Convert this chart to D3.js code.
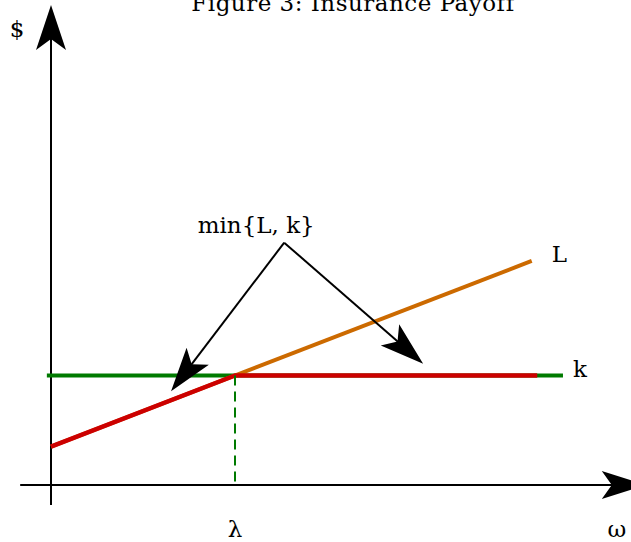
<!DOCTYPE html>
<html>
<head>
<meta charset="utf-8">
<script src="https://cdn.jsdelivr.net/npm/d3@7"></script>
<style>
  html, body { margin: 0; padding: 0; background: #fff; }
  svg { display: block; }
  text { font-family: "DejaVu Serif", "Liberation Serif", serif; fill: #000; }
</style>
</head>
<body>
<svg id="chart" width="631" height="542"></svg>
<script>
// Insurance payoff: loss L(ω), cap k, payout min{L, k}
const lossOmega   = [0, 10.45];      // ω at the ends of the loss line
const lossValue   = [1.05, 6.14];    // L at those ω
const capOmega    = [-0.09, 11.13];  // extent of the cap line k
const capValue    = 3.0;             // k
const lambdaOmega = 4.0;             // λ, where L reaches k
const payoutOmega = [0, 4.0, 10.57]; // min{L, k} corners
const payoutValue = [1.05, 3.0, 3.0];

// Annotation: label anchor and the two arrow tips (in ω, $ units)
const noteLabel  = "min{L, k}";
const noteOrigin = [5.07, 6.64];
const noteTips   = [[2.61, 2.57], [8.09, 3.32]];

const titleText = "Figure 3: Insurance Payoff";
const axisLabels = { x: "ω", y: "$", lambda: "λ", L: "L", k: "k" };

const svg = d3.select("#chart");

// One unit of ω = 46 px, one unit of $ = 36.5 px, origin at (51, 485)
const x = d3.scaleLinear().domain([0, 10]).range([51, 511]);
const y = d3.scaleLinear().domain([0, 10]).range([485, 120]);

const cGreen = "#007a00", cRed = "#cc0000", cOrange = "#cc6a00";
const fs = 23;

// Stealth-style arrowhead pointing at (tx, ty) along direction (dx, dy)
function arrowHead(g, tx, ty, dx, dy, len = 44, half = 14, notch = 34) {
  const n = Math.hypot(dx, dy), ux = dx / n, uy = dy / n;
  const px = -uy, py = ux;
  const bx = tx - ux * len, by = ty - uy * len;
  const p = d3.path();
  p.moveTo(tx, ty);
  p.lineTo(bx + px * half, by + py * half);
  p.lineTo(tx - ux * notch, ty - uy * notch);
  p.lineTo(bx - px * half, by - py * half);
  p.closePath();
  g.append("path").attr("d", p.toString()).attr("fill", "#000");
}

// Axes
const axes = svg.append("g");
const xAxisFrom = x(-0.67), xAxisTip = x(12.93);
const yAxisFrom = y(-0.55), yAxisTip = y(13.15);
axes.append("line").attr("x1", xAxisFrom).attr("x2", xAxisTip - 30)
  .attr("y1", y(0)).attr("y2", y(0)).attr("stroke", "#000").attr("stroke-width", 2);
arrowHead(axes, xAxisTip, y(0), 1, 0);
axes.append("line").attr("x1", x(0)).attr("x2", x(0))
  .attr("y1", yAxisFrom).attr("y2", yAxisTip + 30).attr("stroke", "#000").attr("stroke-width", 2);
arrowHead(axes, x(0), yAxisTip, 0, -1, 45, 15, 34);

// Cap k
svg.append("line")
  .attr("x1", x(capOmega[0])).attr("x2", x(capOmega[1]))
  .attr("y1", y(capValue)).attr("y2", y(capValue))
  .attr("stroke", cGreen).attr("stroke-width", 4);

// Loss L
const line = d3.line().x(d => x(d[0])).y(d => y(d[1]));
svg.append("path")
  .attr("d", line(d3.zip(lossOmega, lossValue)))
  .attr("fill", "none").attr("stroke", cOrange).attr("stroke-width", 4);

// Payout min{L, k}
svg.append("path")
  .attr("d", line(d3.zip(payoutOmega, payoutValue)))
  .attr("fill", "none").attr("stroke", cRed).attr("stroke-width", 4.5)
  .attr("stroke-linejoin", "round");

// λ guide
svg.append("line")
  .attr("x1", x(lambdaOmega)).attr("x2", x(lambdaOmega))
  .attr("y1", y(capValue)).attr("y2", y(0))
  .attr("stroke", cGreen).attr("stroke-width", 2)
  .attr("stroke-dasharray", "10,6");

// Annotation arrows
const note = svg.append("g");
noteTips.forEach(t => {
  const ox = x(noteOrigin[0]), oy = y(noteOrigin[1]);
  const tx = x(t[0]), ty = y(t[1]);
  const dx = tx - ox, dy = ty - oy, n = Math.hypot(dx, dy);
  note.append("line")
    .attr("x1", ox).attr("y1", oy)
    .attr("x2", tx - dx / n * 30).attr("y2", ty - dy / n * 30)
    .attr("stroke", "#000").attr("stroke-width", 2);
  arrowHead(note, tx, ty, dx, dy);
});

// Texts
svg.append("text").attr("x", 353).attr("y", 11)
  .attr("text-anchor", "middle").attr("font-size", fs)
  .attr("letter-spacing", 0.5).text(titleText);
svg.append("text").attr("x", x(noteOrigin[0]) - 28).attr("y", y(noteOrigin[1]) - 10)
  .attr("text-anchor", "middle").attr("font-size", fs).text(noteLabel);
svg.append("text").attr("x", x(lossOmega[1]) + 20).attr("y", y(lossValue[1]) + 1)
  .attr("font-size", fs).text(axisLabels.L);
svg.append("text").attr("x", x(capOmega[1]) + 10).attr("y", y(capValue) + 1)
  .attr("font-size", fs).text(axisLabels.k);
svg.append("text").attr("x", x(lambdaOmega)).attr("y", 537)
  .attr("text-anchor", "middle").attr("font-size", fs).text(axisLabels.lambda);
svg.append("text").attr("x", 617).attr("y", 537)
  .attr("text-anchor", "middle").attr("font-size", fs).text(axisLabels.x);
svg.append("text").attr("x", 17).attr("y", 37)
  .attr("text-anchor", "middle").attr("font-size", fs).text(axisLabels.y);
</script>
</body>
</html>
